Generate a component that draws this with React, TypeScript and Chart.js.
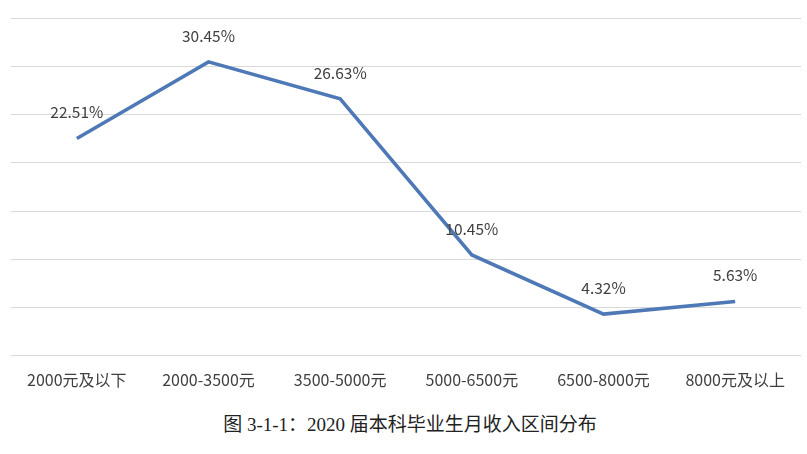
import { useEffect, useRef } from "react";
import Chart from "chart.js/auto";

// --- data ---
const categories = ["2000元及以下", "2000-3500元", "3500-5000元", "5000-6500元", "6500-8000元", "8000元及以上"];
const shares = [22.51, 30.45, 26.63, 10.45, 4.32, 5.63];
const caption = "图 3-1-1：2020 届本科毕业生月收入区间分布";

const lineColor = "#4E79B6";

// draws "xx.xx%" above each point
const valueLabels = {
  id: "valueLabels",
  afterDatasetsDraw(chart: Chart) {
    const { ctx } = chart;
    const meta = chart.getDatasetMeta(0);
    ctx.save();
    ctx.font = '15.5px "Noto Sans CJK SC", "Open Sans", sans-serif';
    ctx.fillStyle = "#404040";
    ctx.textAlign = "center";
    ctx.textBaseline = "middle";
    meta.data.forEach((pt, i) => {
      ctx.fillText(`${shares[i].toFixed(2)}%`, pt.x, pt.y - 26);
    });
    ctx.restore();
  },
};

export default function App() {
  const canvasRef = useRef<HTMLCanvasElement | null>(null);
  const chartRef = useRef<Chart | null>(null);

  useEffect(() => {
    if (!canvasRef.current) return;
    chartRef.current?.destroy();
    chartRef.current = new Chart(canvasRef.current, {
      type: "line",
      data: {
        labels: categories,
        datasets: [
          {
            data: shares,
            borderColor: lineColor,
            borderWidth: 3.5,
            pointRadius: 0,
            tension: 0,
            fill: false,
          },
        ],
      },
      options: {
        animation: false,
        responsive: false,
        maintainAspectRatio: false,
        layout: { padding: { left: 11, right: 6, top: 18, bottom: 4 } },
        plugins: { legend: { display: false }, tooltip: { enabled: false } },
        scales: {
          x: {
            offset: true,
            grid: { display: false },
            border: { display: false },
            ticks: {
              color: "#404040",
              padding: 7,
              maxRotation: 0,
              font: { family: '"Noto Sans CJK SC", sans-serif', size: 16 },
            },
          },
          y: {
            min: 0,
            max: 35,
            grid: { color: "#d9d9d9", lineWidth: 1, drawTicks: false },
            border: { display: false },
            ticks: { display: false, stepSize: 5 },
          },
        },
      },
      plugins: [valueLabels],
    });
    return () => {
      chartRef.current?.destroy();
      chartRef.current = null;
    };
  }, []);

  return (
    <div style={{ position: "absolute", left: 0, top: 0, width: 807, height: 454, background: "#fff" }}>
      <canvas ref={canvasRef} width={807} height={401} style={{ display: "block" }} />
      <div
        style={{
          position: "absolute",
          top: 409,
          left: 0,
          width: 820,
          textAlign: "center",
          fontFamily: '"Liberation Serif", "Noto Sans CJK SC", serif',
          fontSize: 19,
          color: "#222",
        }}
      >
        {caption}
      </div>
    </div>
  );
}
